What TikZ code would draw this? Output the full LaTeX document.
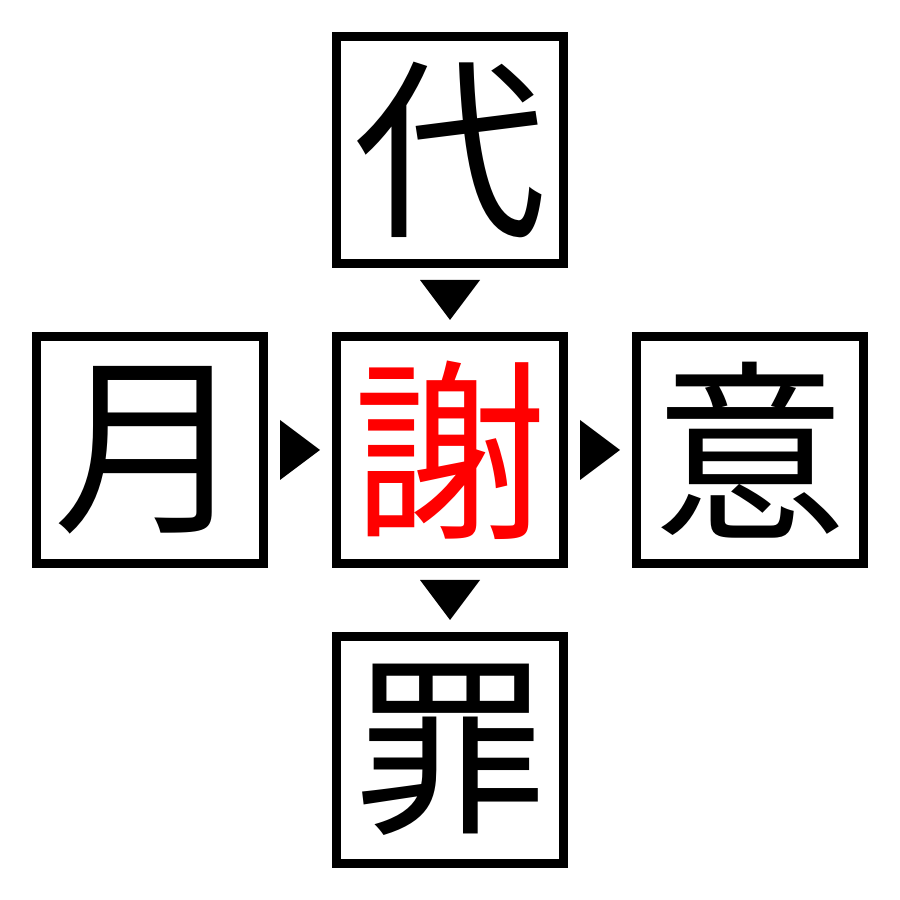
\documentclass[tikz,border=0pt]{standalone}
\usepackage{fontspec}
\newfontfamily\cjk{Noto Sans CJK JP}
\usepackage{tikz}
\usetikzlibrary{positioning,calc}
\tikzset{kanji/.style={draw, line width=0.09cm, minimum size=2.27cm, inner sep=0pt, font=\cjk\fontsize{55}{55}\selectfont}}

\begin{document}
\begin{tikzpicture}
\useasboundingbox (0,0) rectangle (9,9);

%boxes
\node[kanji] (top) at (4.5, 7.5) {代};
\node[kanji] (left) at (1.5, 4.5) {月};
\node[kanji, text=red] (mid) at (4.5, 4.5) {謝};
\node[kanji] (right) at (7.5, 4.5) {意};
\node[kanji] (bottom) at (4.5, 1.5) {罪};

%arrows
\coordinate (t1) at ($(top.south)!0.5!(mid.north)$);
\coordinate (t2) at ($(mid.south)!0.5!(bottom.north)$);
\coordinate (t3) at ($(left.east)!0.5!(mid.west)$);
\coordinate (t4) at ($(mid.east)!0.5!(right.west)$);
\fill ([shift={(-0.3,0.2)}]t1) -- ([shift={(0.3,0.2)}]t1) -- ([shift={(0,-0.2)}]t1) -- cycle;
\fill ([shift={(-0.3,0.2)}]t2) -- ([shift={(0.3,0.2)}]t2) -- ([shift={(0,-0.2)}]t2) -- cycle;
\fill ([shift={(-0.2,0.3)}]t3) -- ([shift={(-0.2,-0.3)}]t3) -- ([shift={(0.2,0)}]t3) -- cycle;
\fill ([shift={(-0.2,0.3)}]t4) -- ([shift={(-0.2,-0.3)}]t4) -- ([shift={(0.2,0)}]t4) -- cycle;
\end{tikzpicture}
\end{document}
